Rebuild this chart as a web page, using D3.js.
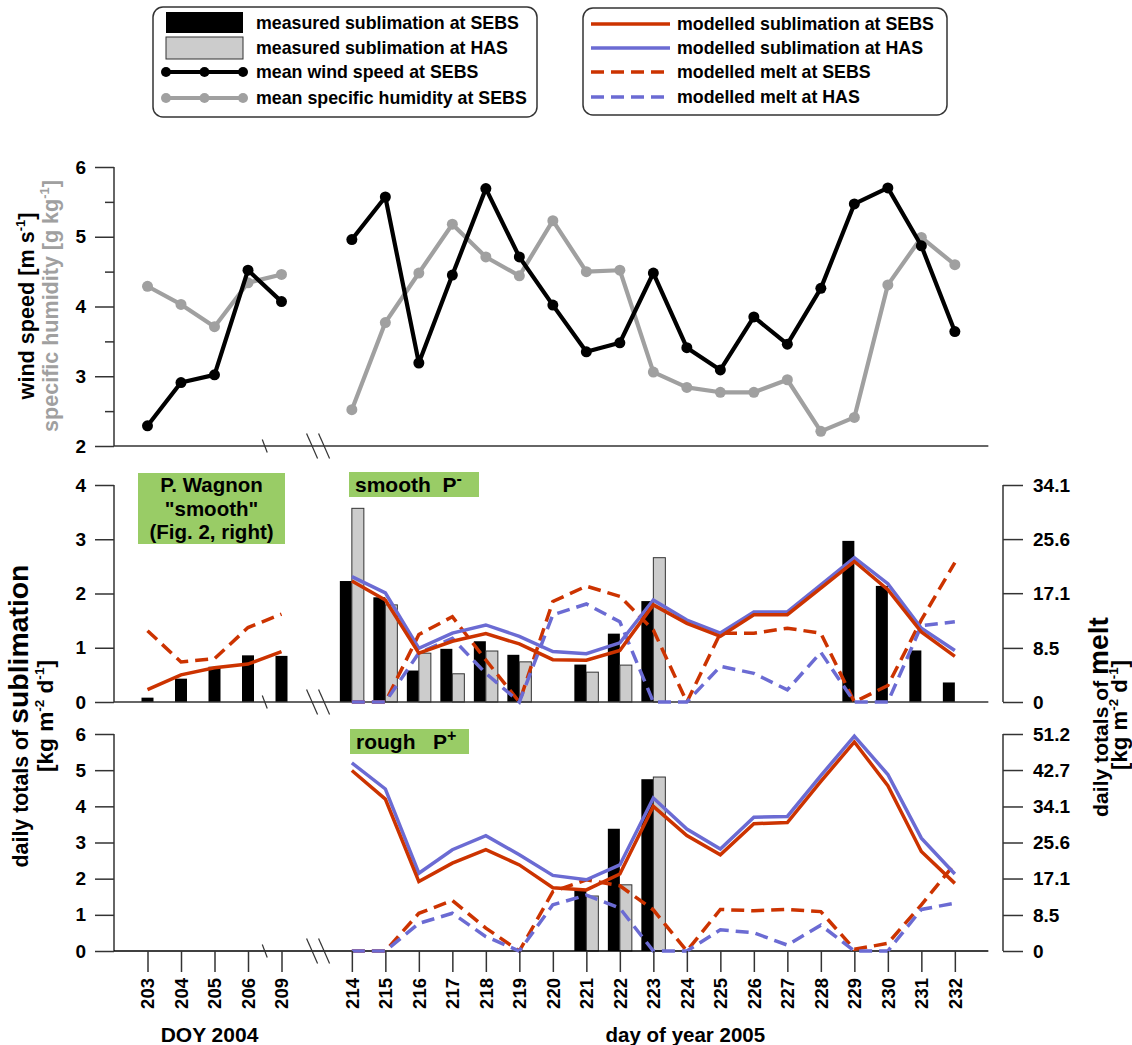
<!DOCTYPE html>
<html>
<head>
<meta charset="utf-8">
<script src="https://cdn.jsdelivr.net/npm/d3@7"></script>
<style>
  body { margin: 0; background: #fff; }
  svg { font-family: 'Liberation Sans', Arial, sans-serif; font-weight: bold; }
</style>
</head>
<body>
<div id="chart"></div>
<script>
// days
const days2004 = [203, 204, 205, 206, 209]
const days2005 = [214, 215, 216, 217, 218, 219, 220, 221, 222, 223, 224, 225, 226, 227, 228, 229, 230, 231, 232]

// top panel: wind speed (m/s) and specific humidity (g/kg)
const wind2004 = [2.29, 2.91, 3.02, 4.52, 4.07]
const hum2004 = [4.29, 4.03, 3.71, 4.34, 4.46]
const wind2005 = [4.96, 5.57, 3.19, 4.45, 5.69, 4.71, 4.02, 3.35, 3.48, 4.48, 3.41, 3.09, 3.85, 3.46, 4.26, 5.47, 5.70, 4.87, 3.64]
const hum2005 = [2.52, 3.77, 4.48, 5.18, 4.71, 4.44, 5.23, 4.50, 4.52, 3.06, 2.84, 2.77, 2.77, 2.95, 2.21, 2.41, 4.31, 4.99, 4.60]

// middle panel: smooth P-  (sublimation kg m-2 d-1, melt kg m-2 d-1)
const measSebs2004 = [0.08, 0.43, 0.65, 0.86, 0.85]
const modSublSebs2004 = [0.23, 0.50, 0.63, 0.70, 0.93]
const modMeltSebs2004 = [11.2, 6.3, 6.8, 11.7, 13.8]

const measSebsSmooth = [2.23, 1.93, 0.58, 0.98, 1.12, 0.87, null, 0.69, 1.26, 1.86, null, null, null, null, null, 2.97, 2.14, 0.95, 0.36]
const measHasSmooth = [3.57, 1.79, 0.90, 0.52, 0.94, 0.74, null, 0.55, 0.68, 2.66, null, null, null, null, null, null, null, null, null]
const modSublSebsSmooth = [2.23, 1.88, 0.90, 1.12, 1.26, 1.07, 0.78, 0.77, 0.95, 1.79, 1.45, 1.21, 1.61, 1.61, 2.10, 2.59, 2.07, 1.29, 0.84]
const modSublHasSmooth = [2.31, 2.01, 0.99, 1.27, 1.42, 1.21, 0.93, 0.89, 1.09, 1.88, 1.51, 1.27, 1.66, 1.66, 2.16, 2.66, 2.18, 1.36, 0.95]
const modMeltSebsSmooth = [0, 0, 10.6, 13.4, 6.6, 0, 15.8, 18.2, 16.6, 11.3, 0, 10.8, 10.8, 11.6, 10.8, 0, 2.6, 12.9, 21.9]
const modMeltHasSmooth = [0, 0, 7.7, 10.0, 4.5, 0, 13.7, 15.4, 12.6, 0, 0, 5.6, 4.5, 1.9, 7.8, 0, 0, 12.0, 12.6]

// bottom panel: rough P+
const measSebsRough = [null, null, null, null, null, null, null, 1.69, 3.38, 4.75, null, null, null, null, null, null, null, null, null]
const measHasRough = [null, null, null, null, null, null, null, 1.52, 1.83, 4.81, null, null, null, null, null, null, null, null, null]
const modSublSebsRough = [4.99, 4.20, 1.92, 2.43, 2.80, 2.38, 1.75, 1.69, 2.13, 4.00, 3.19, 2.66, 3.52, 3.55, 4.69, 5.78, 4.57, 2.75, 1.87]
const modSublHasRough = [5.20, 4.48, 2.15, 2.80, 3.19, 2.66, 2.09, 1.97, 2.38, 4.23, 3.37, 2.82, 3.70, 3.72, 4.85, 5.94, 4.88, 3.12, 2.13]
const modMeltSebsRough = [0, 0, 8.9, 11.9, 5.4, 0, 14.0, 16.8, 15.4, 9.7, 0, 9.8, 9.5, 9.8, 9.3, 0.4, 1.8, 10.9, 20.6]
const modMeltHasRough = [0, 0, 6.5, 8.9, 3.4, 0, 10.9, 13.2, 10.1, 0, 0, 5.0, 4.3, 1.4, 6.1, 0, 0, 9.8, 11.3]

// tick labels
const ticksTop = [2, 3, 4, 5, 6]
const ticksTopMinor = [2.5, 3.5, 4.5, 5.5]
const ticksMid = [0, 1, 2, 3, 4]
const ticksMidR = [0, 8.5, 17.1, 25.6, 34.1]
const ticksBot = [0, 1, 2, 3, 4, 5, 6]
const ticksBotR = [0, 8.5, 17.1, 25.6, 34.1, 42.7, 51.2]

const legendA = ['measured sublimation at SEBS', 'measured sublimation at HAS', 'mean wind speed at SEBS', 'mean specific humidity at SEBS']
const legendB = ['modelled sublimation at SEBS', 'modelled sublimation at HAS', 'modelled melt at SEBS', 'modelled melt at HAS']

const red = '#cc3300'
const blue = '#6b6bd3'
const grey = '#a0a0a0'
const green = '#99cc66'
const axisCol = '#333'
const dash = '13,7'

const width = 1132
const height = 1045
const svg = d3.select('#chart').append('svg')
  .attr('width', width)
  .attr('height', height)

const left = 114
const step = 33.5
const right = left + 26.1 * step
const rightAxisX = 1003

const x2004 = d3.scalePoint().domain(days2004).range([left + step, left + 5 * step])
const x2005 = d3.scaleLinear().domain([214, 232]).range([left + 7.1 * step, left + 25.1 * step])

const yTop = d3.scaleLinear().domain([2, 6]).range([446, 167])
const yMid = d3.scaleLinear().domain([0, 4]).range([702, 485])
const yMidR = d3.scaleLinear().domain([0, 34.1]).range([702, 485])
const yBot = d3.scaleLinear().domain([0, 6]).range([951, 734])
const yBotR = d3.scaleLinear().domain([0, 51.2]).range([951, 734])

const styleAxis = (g, size) => {
  g.attr('font-family', null).attr('font-size', size || 19).attr('font-weight', 'bold')
  g.select('.domain').remove()
  g.selectAll('line').attr('stroke', axisCol).attr('stroke-width', 1.5)
  g.selectAll('text').attr('fill', '#000')
}

const vline = (x, y0, y1) => svg.append('line')
  .attr('x1', x).attr('x2', x).attr('y1', y0).attr('y2', y1)
  .attr('stroke', axisCol).attr('stroke-width', 1.5)
const hline = (y, x0, x1, col) => svg.append('line')
  .attr('x1', x0).attr('x2', x1).attr('y1', y).attr('y2', y)
  .attr('stroke', col || axisCol).attr('stroke-width', 1.5)

const breakMarks = (y) => {
  const xs = (x2004(206) + x2004(209)) / 2
  svg.append('line').attr('x1', xs - 2.5).attr('x2', xs + 2.5).attr('y1', y - 6.5).attr('y2', y + 6.5)
    .attr('stroke', axisCol).attr('stroke-width', 1.2)
  const xd = x2004(209) + 0.52 * (x2005(214) - x2004(209))
  ;[-6, 6].forEach((o) => {
    svg.append('line').attr('x1', xd + o - 5.5).attr('x2', xd + o + 5.5).attr('y1', y - 12.5).attr('y2', y + 12.5)
      .attr('stroke', axisCol).attr('stroke-width', 1.2)
  })
}

const leftAxis = (y, values, minor) => {
  vline(left, y.range()[1], y.range()[0])
  svg.append('g').attr('transform', `translate(${left},0)`)
    .call(d3.axisLeft(y).tickValues(values).tickSize(19).tickPadding(9).tickSizeOuter(0).tickFormat(d3.format('d')))
    .call(styleAxis)
  if (minor) {
    svg.append('g').attr('transform', `translate(${left},0)`)
      .call(d3.axisLeft(y).tickValues(minor).tickSize(9).tickFormat('').tickSizeOuter(0))
      .call(styleAxis)
  }
}

const rightAxis = (y, values) => {
  vline(rightAxisX, y.range()[1], y.range()[0])
  svg.append('g').attr('transform', `translate(${rightAxisX},0)`)
    .call(d3.axisRight(y).tickValues(values).tickSize(20).tickPadding(10).tickSizeOuter(0)
      .tickFormat((d) => (d === 0 ? '0' : d3.format('.1f')(d))))
    .call(styleAxis)
}

// ---------- top panel ----------
leftAxis(yTop, ticksTop, ticksTopMinor)
hline(yTop(2), left, right)
breakMarks(yTop(2))

const drawDotLine = (xs, days, vals, y, col) => {
  const pts = d3.zip(days, vals)
  svg.append('path')
    .attr('d', d3.line().x((d) => xs(d[0])).y((d) => y(d[1]))(pts))
    .attr('fill', 'none').attr('stroke', col).attr('stroke-width', 4.2).attr('stroke-linejoin', 'round')
  svg.append('g').selectAll('circle').data(pts).enter().append('circle')
    .attr('cx', (d) => xs(d[0])).attr('cy', (d) => y(d[1])).attr('r', 5.5).attr('fill', col)
}
drawDotLine(x2004, days2004, hum2004, yTop, grey)
drawDotLine(x2004, days2004, wind2004, yTop, '#000')
drawDotLine(x2005, days2005, hum2005, yTop, grey)
drawDotLine(x2005, days2005, wind2005, yTop, '#000')

// ---------- helpers for sublimation panels ----------
const bw = 12
const drawBars = (vals, y, col, offset) => {
  const pts = d3.zip(days2005, vals).filter((d) => d[1] != null)
  svg.append('g').selectAll('rect').data(pts).enter().append('rect')
    .attr('x', (d) => x2005(d[0]) + offset)
    .attr('y', (d) => y(d[1]))
    .attr('width', bw)
    .attr('height', (d) => y(0) - y(d[1]))
    .attr('fill', col)
    .attr('stroke', col === '#000' ? 'none' : '#333')
    .attr('stroke-width', 1)
}
const drawLine = (xs, days, vals, y, col, dashed) => {
  svg.append('path')
    .attr('d', d3.line().defined((d) => d[1] != null).x((d) => xs(d[0])).y((d) => y(d[1]))(d3.zip(days, vals)))
    .attr('fill', 'none').attr('stroke', col).attr('stroke-width', 3.5)
    .attr('stroke-dasharray', dashed ? dash : null)
}

// ---------- middle panel ----------
svg.append('g').selectAll('rect').data(d3.zip(days2004, measSebs2004)).enter().append('rect')
  .attr('x', (d) => x2004(d[0]) - bw / 2)
  .attr('y', (d) => yMid(d[1]))
  .attr('width', bw)
  .attr('height', (d) => yMid(0) - yMid(d[1]))
  .attr('fill', '#000')
drawBars(measSebsSmooth, yMid, '#000', -bw)
drawBars(measHasSmooth, yMid, '#cccccc', 0)
leftAxis(yMid, ticksMid)
rightAxis(yMidR, ticksMidR)
hline(yMid(0), left, right)
breakMarks(yMid(0))

drawLine(x2004, days2004, modMeltSebs2004, yMidR, red, true)
drawLine(x2004, days2004, modSublSebs2004, yMid, red, false)
drawLine(x2005, days2005, modMeltSebsSmooth, yMidR, red, true)
drawLine(x2005, days2005, modMeltHasSmooth, yMidR, blue, true)
drawLine(x2005, days2005, modSublHasSmooth, yMid, blue, false)
drawLine(x2005, days2005, modSublSebsSmooth, yMid, red, false)

// ---------- bottom panel ----------
drawBars(measSebsRough, yBot, '#000', -bw)
drawBars(measHasRough, yBot, '#cccccc', 0)
leftAxis(yBot, ticksBot)
rightAxis(yBotR, ticksBotR)
hline(yBot(0), left, right, '#000')
breakMarks(yBot(0))

drawLine(x2005, days2005, modMeltSebsRough, yBotR, red, true)
drawLine(x2005, days2005, modMeltHasRough, yBotR, blue, true)
drawLine(x2005, days2005, modSublHasRough, yBot, blue, false)
drawLine(x2005, days2005, modSublSebsRough, yBot, red, false)

// x axes (bottom panel only)
const rotateTicks = (g) => {
  g.selectAll('text')
    .attr('transform', 'rotate(-90)')
    .attr('text-anchor', 'end')
    .attr('x', -27).attr('y', 0).attr('dy', '0.35em')
}
svg.append('g').attr('transform', `translate(0,${yBot(0)})`)
  .call(d3.axisBottom(x2004).tickSize(21).tickSizeOuter(0))
  .call(styleAxis, 18.5).call(rotateTicks)
svg.append('g').attr('transform', `translate(0,${yBot(0)})`)
  .call(d3.axisBottom(x2005).tickValues(days2005).tickSize(21).tickSizeOuter(0).tickFormat(d3.format('d')))
  .call(styleAxis, 18.5).call(rotateTicks)

svg.append('text').attr('x', (x2004(203) + x2004(209)) / 2 - 5).attr('y', 1042)
  .attr('text-anchor', 'middle').attr('font-size', 21).text('DOY 2004')
svg.append('text').attr('x', (x2005(214) + x2005(232)) / 2 + 32).attr('y', 1042)
  .attr('text-anchor', 'middle').attr('font-size', 20.5).text('day of year 2005')

// ---------- annotation boxes ----------
const labelBox = (x, y, w, h) => svg.append('rect').attr('x', x).attr('y', y).attr('width', w).attr('height', h).attr('fill', green)
labelBox(138, 473, 147, 71)
;['P. Wagnon', '"smooth"', '(Fig. 2, right)'].forEach((t, i) => {
  svg.append('text').attr('x', 211.5).attr('y', 492 + i * 23.5).attr('text-anchor', 'middle')
    .attr('font-size', 20.5).text(t)
})
labelBox(349, 472, 130, 25)
const t1 = svg.append('text').attr('x', 355).attr('y', 492).attr('font-size', 21)
t1.append('tspan').text('smooth\u00a0\u00a0P')
t1.append('tspan').attr('font-size', 16).attr('dy', -8).text('-')
labelBox(350, 729, 119, 25)
const t2 = svg.append('text').attr('x', 356).attr('y', 749).attr('font-size', 21)
t2.append('tspan').text('rough\u00a0\u00a0\u00a0P')
t2.append('tspan').attr('font-size', 16).attr('dy', -8).text('+')

// ---------- axis titles ----------
// parts: [text, 'n' normal | 's' superscript | 'b' big]; the size is fitted to the length seen in the figure
const rotTitle = (x, y, parts, col, target) => {
  const make = (size) => {
    const t = svg.append('text')
      .attr('transform', `translate(${x},${y}) rotate(-90)`)
      .attr('text-anchor', 'middle').attr('font-size', size).attr('fill', col)
    let up = false
    parts.forEach(([s, kind]) => {
      const sp = t.append('tspan').text(s)
      if (kind === 's') {
        sp.attr('font-size', size * 0.6).attr('dy', -size * 0.42)
        up = true
      } else {
        if (up) sp.attr('dy', size * 0.42)
        up = false
        if (kind === 'b') sp.attr('font-size', size * 1.33)
      }
    })
    return t
  }
  const probe = make(20)
  const w = probe.node().getBBox().width
  probe.remove()
  return make(20 * target / w)
}
const unitParts = [['[kg m', 'n'], ['-2', 's'], [' d', 'n'], ['-1', 's'], [']', 'n']]

rotTitle(34, 306, [['wind speed [m s', 'n'], ['-1', 's'], [']', 'n']], '#000', 188)
rotTitle(58, 306, [['specific humidity [g kg', 'n'], ['-1', 's'], [']', 'n']], grey, 252)
rotTitle(28, 716, [['daily totals of ', 'n'], ['sublimation', 'b']], '#000', 303)
rotTitle(53, 716, unitParts, '#000', 112)
rotTitle(1108, 717, [['daily totals of ', 'n'], ['melt', 'b']], '#000', 200)
rotTitle(1127, 715, unitParts, '#000', 110)

// ---------- legends ----------
const legendBox = (x, y, w, h) => svg.append('rect').attr('x', x).attr('y', y).attr('width', w).attr('height', h)
  .attr('rx', 10).attr('fill', '#fff').attr('stroke', '#333').attr('stroke-width', 1.5)

// font size fitted so that the first entry spans what it spans in the figure
const probe = svg.append('text').attr('font-size', 20).text(legendA[0])
const legendSize = 20 * 263 / probe.node().getBBox().width
probe.remove()
const legendText = (x, y, t) => svg.append('text').attr('x', x).attr('y', y).attr('dy', '0.35em')
  .attr('font-size', legendSize).text(t)

legendBox(153, 7, 384, 110)
const rowsA = [23, 48, 72, 98]
svg.append('rect').attr('x', 166).attr('y', 12).attr('width', 77).attr('height', 21).attr('fill', '#000')
svg.append('rect').attr('x', 166).attr('y', 37).attr('width', 77).attr('height', 22).attr('fill', '#cccccc')
  .attr('stroke', '#333').attr('stroke-width', 1)
;[['#000', rowsA[2]], [grey, rowsA[3]]].forEach(([c, y]) => {
  hline(y, 166, 243, c).attr('stroke-width', 4.2)
  ;[166, 204.5, 243].forEach((cx) => svg.append('circle').attr('cx', cx).attr('cy', y).attr('r', 5).attr('fill', c))
})
legendA.forEach((t, i) => legendText(256, rowsA[i], t))

legendBox(583, 8, 364, 107)
const rowsB = [24, 48, 72, 97]
;[[red, false], [blue, false], [red, true], [blue, true]].forEach(([c, dashed], i) => {
  hline(rowsB[i], 591, 670, c).attr('stroke-width', 3.5).attr('stroke-dasharray', dashed ? dash : null)
})
legendB.forEach((t, i) => legendText(677, rowsB[i], t))
</script>
</body>
</html>
